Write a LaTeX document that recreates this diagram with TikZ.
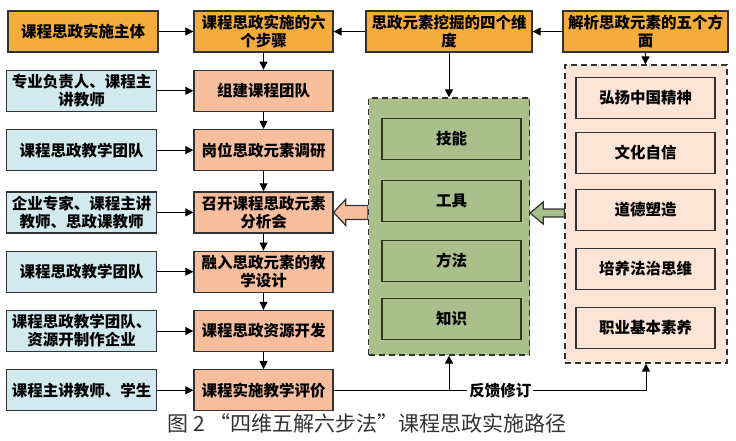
\documentclass[tikz,border=0pt]{standalone}
\usepackage{fontspec}
\setmainfont{Noto Sans CJK SC}
\usetikzlibrary{positioning,arrows.meta,calc}

\definecolor{topfill}{HTML}{F4AC3C}
\definecolor{stepfill}{HTML}{F7BE9E}
\definecolor{rolefill}{HTML}{D2E9EF}
\definecolor{grnfill}{HTML}{A9C08B}
\definecolor{grnline}{HTML}{2E3A1C}
\definecolor{pchfill}{HTML}{FCE5D7}
\definecolor{edge}{HTML}{333333}

\begin{document}
\begin{tikzpicture}[x=1pt, y=-1pt,
  font=\fontsize{15.5}{18}\selectfont\bfseries,
  >={Triangle[length=8pt,width=8pt]},
  blk/.style     = {draw=edge, line width=1.3pt, align=center, inner sep=2pt,
                    minimum height=41pt, minimum width=#1},
  topbox/.style  = {blk=#1, fill=topfill},
  stepbox/.style = {blk=139pt, fill=stepfill},
  rolebox/.style = {blk=150pt, fill=rolefill},
  dimbox/.style  = {blk=139pt, fill=grnfill, draw=grnline},
  aspbox/.style  = {blk=139pt, fill=pchfill},
  grp/.style     = {draw=edge, dash pattern=on 6pt off 4pt, line width=1.3pt},
  flow/.style    = {->, line width=1pt},
  fat/.style     = {draw=edge, line width=1.2pt, line join=miter},
  lbl/.style     = {fill=white, inner sep=2pt}
]
\useasboundingbox (0,0) rectangle (736,441);

\def\vgap{17pt}

% ---------------- top row ----------------
\node[topbox=150pt] (who) at (83,31.5)    {课程思政实施主体};
\node[topbox=139pt] (s0)  at (263.5,31.5) {课程思政实施的六\\个步骤};
\node[topbox=166pt] (dim) at (449,31.5)   {思政元素挖掘的四个维\\度};
\node[topbox=165pt] (asp) at (645.5,31.5) {解析思政元素的五个方\\面};

% ---------------- six steps ----------------
\node[stepbox, below=\vgap of s0] (s1) {组建课程团队};
\node[stepbox, below=\vgap of s1] (s2) {岗位思政元素调研};
\node[stepbox, below=20pt of s2]  (s3) {召开课程思政元素\\分析会};
\node[stepbox, below=\vgap of s3] (s4) {融入思政元素的教\\学设计};
\node[stepbox, below=\vgap of s4] (s5) {课程思政资源开发};
\node[stepbox, below=\vgap of s5] (s6) {课程实施教学评价};

% ---------------- who does it ----------------
\node[rolebox, left=36pt of s1] (r1) {专业负责人、课程主\\讲教师};
\node[rolebox, left=36pt of s2] (r2) {课程思政教学团队};
\node[rolebox, left=36pt of s3] (r3) {企业专家、课程主讲\\教师、思政课教师};
\node[rolebox, left=36pt of s4] (r4) {课程思政教学团队};
\node[rolebox, left=36pt of s5] (r5) {课程思政教学团队、\\资源开制作企业};
\node[rolebox, left=36pt of s6] (r6) {课程主讲教师、学生};

% ---------------- four dimensions ----------------
\node[grp, fill=grnfill, minimum width=161pt, minimum height=257pt] (grn) at (449,226.5) {};
\node[dimbox] (d1) at (451.5,139) {技能};
\node[dimbox] (d2) at (451.5,201) {工具};
\node[dimbox] (d3) at (451.5,261) {方法};
\node[dimbox] (d4) at (451.5,319) {知识};

% ---------------- five aspects ----------------
\node[grp, fill=pchfill, minimum width=162pt, minimum height=298pt] (pch) at (646,214) {};
\node[aspbox] (a1) at (645.5,98)  {弘扬中国精神};
\node[aspbox] (a2) at (645.5,153) {文化自信};
\node[aspbox] (a3) at (645.5,210) {道德塑造};
\node[aspbox] (a4) at (645.5,269) {培养法治思维};
\node[aspbox] (a5) at (645.5,328) {职业基本素养};

% ---------------- connectors ----------------
\draw[flow] (who) -- (s0);
\draw[flow] (dim) -- (s0);
\draw[flow] (asp) -- (dim);
\draw[flow] (dim) -- (grn);
\draw[flow] (asp.south) -- (asp.south |- pch.north);

\foreach \a/\b in {s0/s1, s1/s2, s2/s3, s3/s4, s4/s5, s5/s6}
  \draw[flow] (\a) -- (\b);
\foreach \i in {1,...,6}
  \draw[flow] (r\i) -- (s\i);

% block arrows
\draw[fat, fill=stepfill] (s3.east) -- ++(12,-13) -- ++(0,6)
  -- ($(grn.west|-s3.east)+(0,-7)$) -- ++(0,14)
  -- ($(s3.east)+(12,7)$) -- ++(0,6) -- cycle;
\coordinate (t2) at ($(grn.east|-a3.center)+(0,3)$);
\draw[fat, fill=grnfill] (t2) -- ++(13,-11) -- ++(0,7)
  -- ($(pch.west|-t2)+(0,-4)$) -- ++(0,8)
  -- ($(t2)+(13,4)$) -- ++(0,7) -- cycle;

% feedback
\draw[flow] (s6.east) -| (pch.south);
\draw[flow] (s6.east -| grn.south) -- (grn.south);
\node[lbl] (fbk) at ($(s6.east)!0.534!(s6.east -| pch.south)$) {反馈修订};

% caption
\node[font=\fontsize{21}{24}\selectfont, text=black!80] (cap) at (367,423)
  {图 2 “四维五解六步法”课程思政实施路径};

\end{tikzpicture}
\end{document}
